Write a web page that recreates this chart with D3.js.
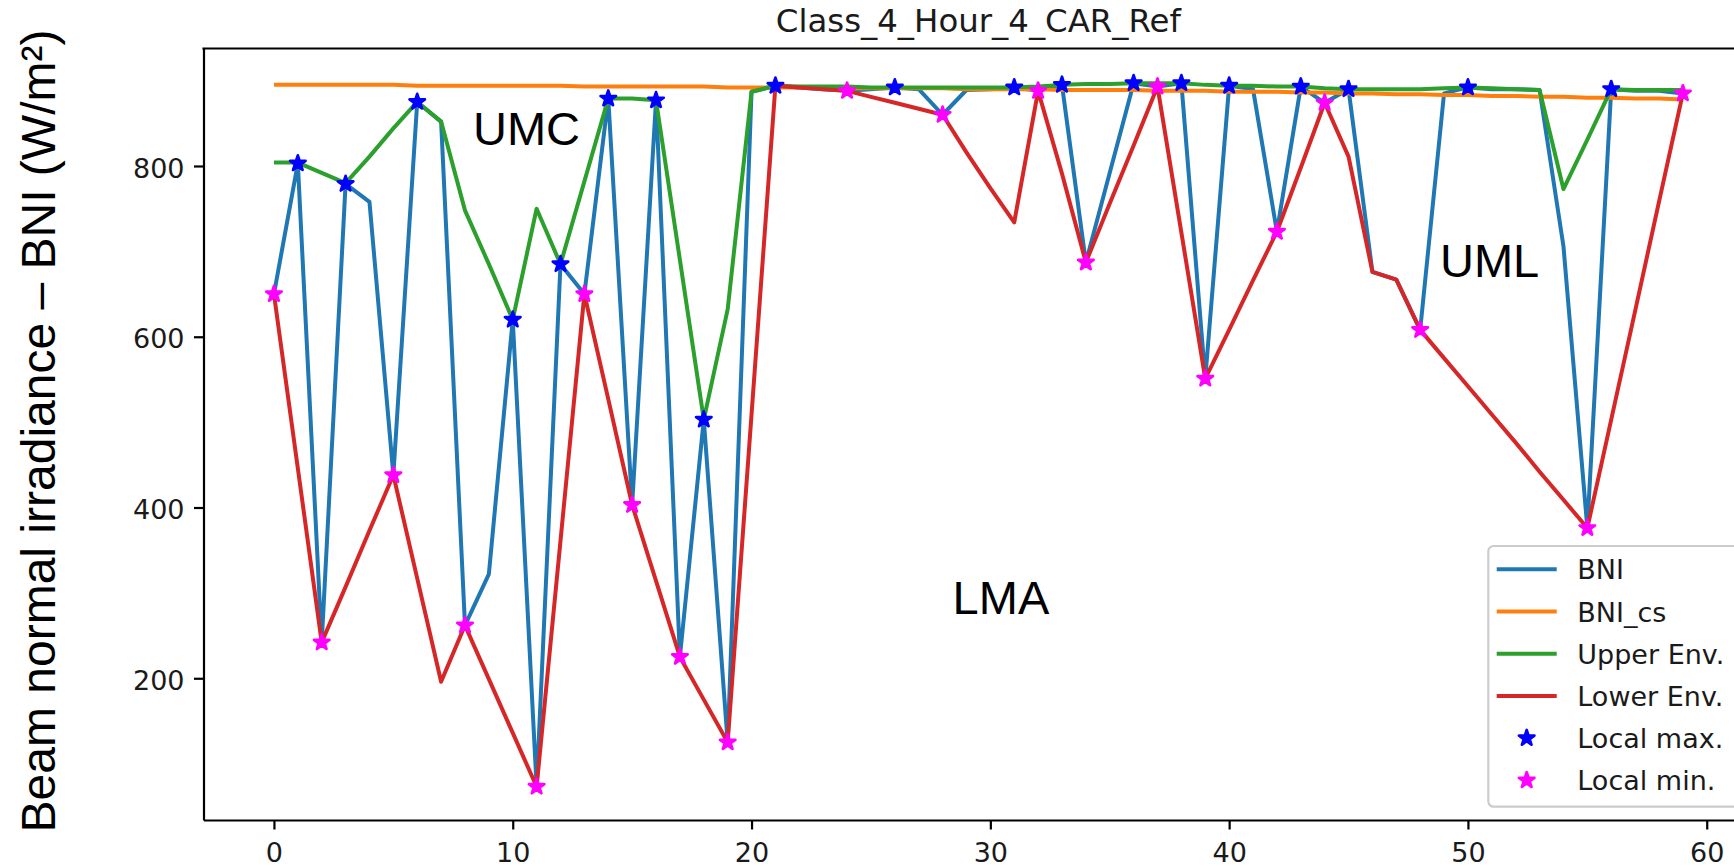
<!DOCTYPE html>
<html><head><meta charset="utf-8">
<script src="https://cdn.jsdelivr.net/npm/d3@7"></script>
<style>body{margin:0;background:#fff;overflow:hidden} svg{display:block}</style>
</head><body>
<svg id="chart" width="1734" height="866"></svg>
<script>
// ---------- data ----------
const minutes = [0,1,2,3,4,5,6,7,8,9,10,11,12,13,14,15,16,17,18,19,20,21,22,23,24,25,26,27,28,29,
                 30,31,32,33,34,35,36,37,38,39,40,41,42,43,44,45,46,47,48,49,50,51,52,53,54,55,56,57,58,59];
const bni = [650,803,242,779,758,438,875,852,262,322,620,73,685,650,879,403,877,225,503,125,
             887,894,892,890,888,890,892,890,860,889,890,892,888,895,687,792,897,893,897,551,
             894,890,723,893,874,890,676,667,608,885,892,890,890,889,706,376,890,888,888,885];
const bniCs = [895,895,895,895,895,895,894,894,894,894,894,894,894,893,893,893,893,893,893,892,
               892,892,892,892,891,891,891,891,891,890,890,890,890,889,889,889,889,888,888,888,
               887,887,887,886,886,885,885,884,884,883,883,882,882,881,881,880,880,879,879,878];
const upperEnv = [804,804,792,780,811,844,875,852,748,685,620,750,685,782,879,879,877,690,503,632,
                  887,894,893,893,893,892,892,892,892,892,892,892,893,895,896,896,897,897,897,895,
                  894,894,893,893,891,890,890,890,890,891,892,891,890,889,773,831,890,889,889,889];
const lowerEnv = [650,446,242,307,373,438,317,196,262,199,136,73,361,650,527,403,314,225,175,125,
                  509,894,892,890,888,881,874,867,860,816,774,734,888,791,687,756,824,893,722,551,
                  608,666,723,798,874,811,676,667,608,575,542,509,476,442,409,376,503,630,758,885];
const localMaxIdx = [1,3,6,10,12,14,16,18,21,26,31,33,36,38,40,43,45,50,56];
const localMinIdx = [0,2,5,8,11,13,15,17,19,24,28,32,34,37,39,42,44,48,55,59];
const xTicks = [0,10,20,30,40,50,60];
const yTicks = [200,400,600,800];
const title = "Class_4_Hour_4_CAR_Ref";
const yLabel = "Beam normal irradiance \u2013 BNI (W/m\u00B2)";
const legendLabels = ["BNI", "BNI_cs", "Upper Env.", "Lower Env.", "Local max.", "Local min."];
const legendTypes = ["line", "line", "line", "line", "star", "star"];
const legendColors = ["#1f77b4", "#ff7f0e", "#2ca02c", "#d62728", "#0000ff", "#ff00ff"];
const noteTexts = ["UMC", "UML", "LMA"];

// ---------- layout ----------
const svg = d3.select("#chart");
const L = 203.5, R = 1753.3, T = 48.5, B = 820;
const x = d3.scaleLinear().domain([-2.95, 61.95]).range([L, R]);
const y = d3.scaleLinear().domain([34, 937.6]).range([B, T]);
const tickFont = "'DejaVu Sans', sans-serif";
const textColor = "#1a1a1a";

// ---------- series ----------
const line = d3.line().x((d, i) => x(minutes[i])).y(d => y(d));
const series = [
  {vals: bni, color: legendColors[0]},
  {vals: bniCs, color: legendColors[1]},
  {vals: upperEnv, color: legendColors[2]},
  {vals: lowerEnv, color: legendColors[3]}
];
const gLines = svg.append("g");
series.forEach(s => {
  gLines.append("path").datum(s.vals)
    .attr("d", line).attr("fill", "none")
    .attr("stroke", s.color).attr("stroke-width", 4)
    .attr("stroke-linejoin", "round");
});

const star = d3.symbol(d3.symbolStar).size(74);
const gMarks = svg.append("g");
gMarks.selectAll("path.max").data(localMaxIdx).join("path")
  .attr("class", "max").attr("d", star)
  .attr("transform", i => `translate(${x(minutes[i])},${y(bni[i])})`)
  .attr("fill", legendColors[4]).attr("stroke", legendColors[4]).attr("stroke-width", 2.7)
  .attr("stroke-linejoin", "round");
gMarks.selectAll("path.min").data(localMinIdx).join("path")
  .attr("class", "min").attr("d", star)
  .attr("transform", i => `translate(${x(minutes[i])},${y(bni[i])})`)
  .attr("fill", legendColors[5]).attr("stroke", legendColors[5]).attr("stroke-width", 2.7)
  .attr("stroke-linejoin", "round");

// ---------- axes ----------
const gx = svg.append("g").attr("transform", `translate(0,${B})`)
  .call(d3.axisBottom(x).tickValues(xTicks).tickFormat(d3.format("d"))
    .tickSize(9.5).tickPadding(9.5).tickSizeOuter(0));
gx.selectAll("text").attr("dy", "0.86em");
const gy = svg.append("g").attr("transform", `translate(${L},0)`)
  .call(d3.axisLeft(y).tickValues(yTicks).tickFormat(d3.format("d"))
    .tickSize(9.5).tickPadding(9.5).tickSizeOuter(0));
gy.selectAll("text").attr("dy", "0.41em");
[gx, gy].forEach(g => {
  g.select(".domain").attr("stroke", "#000").attr("stroke-width", 2.2);
  g.selectAll(".tick line").attr("stroke", "#000").attr("stroke-width", 2.2);
  g.selectAll("text").attr("font-family", tickFont).attr("font-size", 27).attr("fill", textColor);
});
svg.append("line").attr("x1", L).attr("x2", R).attr("y1", T).attr("y2", T)
  .attr("stroke", "#000").attr("stroke-width", 2.2).attr("stroke-linecap", "square");
svg.append("line").attr("x1", R).attr("x2", R).attr("y1", T).attr("y2", B)
  .attr("stroke", "#000").attr("stroke-width", 2.2);

// ---------- title & labels ----------
svg.append("text").attr("x", (L + R) / 2).attr("y", 31.7)
  .attr("text-anchor", "middle").attr("font-family", tickFont)
  .attr("font-size", 32.4).attr("fill", textColor).text(title);

svg.append("text")
  .attr("transform", "translate(55,431) rotate(-90)")
  .attr("text-anchor", "middle")
  .attr("font-family", "'Liberation Sans', Arial, sans-serif")
  .attr("font-size", 48).attr("fill", "#000").text(yLabel);

const notePos = [[473, 145], [1440, 277], [952.6, 614]];
svg.append("g").selectAll("text").data(noteTexts).join("text")
  .attr("x", (d, i) => notePos[i][0]).attr("y", (d, i) => notePos[i][1])
  .attr("font-family", "'Liberation Sans', Arial, sans-serif")
  .attr("font-size", 47).attr("fill", "#000").text(d => d);

// ---------- legend ----------
const lg = svg.append("g");
lg.append("rect").attr("x", 1488.3).attr("y", 546).attr("width", 252).attr("height", 260.7)
  .attr("rx", 5.4).attr("fill", "#fff").attr("fill-opacity", 0.8)
  .attr("stroke", "#cccccc").attr("stroke-width", 2.2);
legendLabels.forEach((label, i) => {
  const cy = 569.3 + i * 42.2;
  if (legendTypes[i] === "line") {
    lg.append("line").attr("x1", 1496.7).attr("x2", 1556.7).attr("y1", cy).attr("y2", cy)
      .attr("stroke", legendColors[i]).attr("stroke-width", 4);
  } else {
    lg.append("path").attr("d", star).attr("transform", `translate(1526.7,${cy})`)
      .attr("fill", legendColors[i]).attr("stroke", legendColors[i]).attr("stroke-width", 2.7)
      .attr("stroke-linejoin", "round");
  }
  lg.append("text").attr("x", 1577.3).attr("y", cy + 10)
    .attr("font-family", tickFont).attr("font-size", 27).attr("fill", textColor).text(label);
});
</script>
</body></html>
